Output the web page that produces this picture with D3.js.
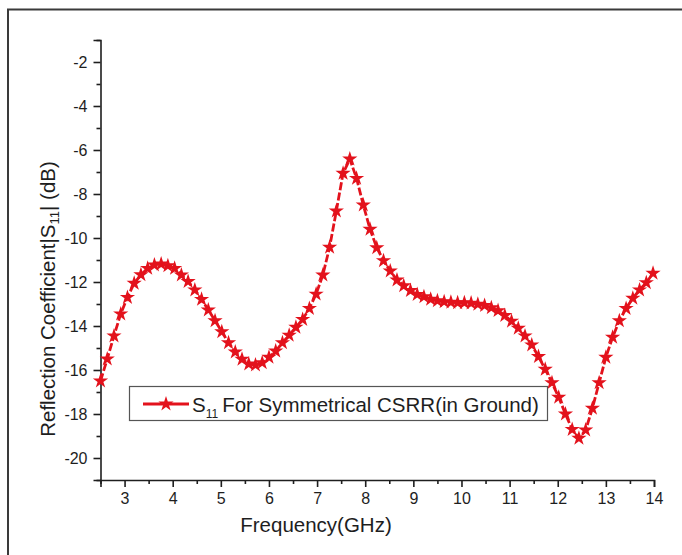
<!DOCTYPE html>
<html>
<head>
<meta charset="utf-8">
<script src="https://cdn.jsdelivr.net/npm/d3@7"></script>
<style>
  html, body { margin: 0; padding: 0; background: #fff; }
  svg { display: block; font-family: "Liberation Sans", Arial, sans-serif; }
</style>
</head>
<body>
<svg id="chart" width="682" height="555"></svg>
<script>
// Simulated S11 sweep, 2.5–14 GHz
const frequency = [
  2.50, 2.64, 2.78, 2.92, 3.06, 3.20, 3.34, 3.48, 3.62, 3.76,
  3.90, 4.04, 4.18, 4.32, 4.46, 4.60, 4.74, 4.88, 5.02, 5.16,
  5.30, 5.44, 5.58, 5.72, 5.86, 6.00, 6.14, 6.28, 6.42, 6.56,
  6.70, 6.84, 6.98, 7.12, 7.26, 7.40, 7.54, 7.68, 7.82, 7.96,
  8.10, 8.24, 8.38, 8.52, 8.66, 8.80, 8.94, 9.08, 9.22, 9.36,
  9.50, 9.64, 9.78, 9.92, 10.06, 10.20, 10.34, 10.48, 10.62, 10.76,
  10.90, 11.04, 11.18, 11.32, 11.46, 11.60, 11.74, 11.88, 12.02, 12.16,
  12.30, 12.44, 12.58, 12.72, 12.86, 13.00, 13.14, 13.28, 13.42, 13.56,
  13.70, 13.84, 13.98
];
const s11 = [
  -16.50, -15.50, -14.45, -13.45, -12.70, -12.06, -11.67, -11.38, -11.23, -11.18,
  -11.26, -11.38, -11.68, -11.98, -12.36, -12.79, -13.27, -13.76, -14.26, -14.76,
  -15.18, -15.51, -15.73, -15.77, -15.67, -15.42, -15.14, -14.76, -14.42, -14.06,
  -13.70, -13.20, -12.55, -11.68, -10.42, -8.77, -7.06, -6.41, -7.29, -8.50,
  -9.60, -10.44, -11.03, -11.50, -11.91, -12.17, -12.39, -12.57, -12.67, -12.78,
  -12.85, -12.90, -12.92, -12.94, -12.94, -12.96, -13.01, -13.07, -13.17, -13.30,
  -13.52, -13.78, -14.10, -14.45, -14.86, -15.39, -15.97, -16.58, -17.24, -18.00,
  -18.70, -19.10, -18.73, -17.74, -16.58, -15.42, -14.51, -13.76, -13.20, -12.74,
  -12.36, -12.03, -11.60
];
const xTicks = [3, 4, 5, 6, 7, 8, 9, 10, 11, 12, 13, 14];
const yTicks = [-20, -18, -16, -14, -12, -10, -8, -6, -4, -2];
const seriesName = "For Symmetrical CSRR(in Ground)";

const red = "#e3121c";
const ink = "#1e1e1e";

const svg = d3.select("#chart");

// Outer frame (top and left edges)
svg.append("path")
  .attr("d", "M8,555 L8,9.5 L682,9.5")
  .attr("fill", "none").attr("stroke", "#3a3a3a").attr("stroke-width", 2);

const x = d3.scaleLinear().domain([2.5, 14]).range([100.5, 654]);
const y = d3.scaleLinear().domain([-21, -1]).range([480, 40]);

// Minor ticks
const xMinor = d3.range(2.5, 14.01, 0.5).filter(v => Math.abs(v - Math.round(v)) > 0.01);
const yMinor = d3.range(-21, -0.99, 2);

const xAxisG = svg.append("g").attr("transform", "translate(0,480)");
xAxisG.call(d3.axisBottom(x).tickValues(xTicks).tickSize(7).tickPadding(6).tickFormat(d3.format("d")));
xAxisG.append("g").call(d3.axisBottom(x).tickValues(xMinor).tickSize(4).tickFormat(""))
  .select(".domain").remove();

const yAxisG = svg.append("g").attr("transform", "translate(100.5,0)");
yAxisG.call(d3.axisLeft(y).tickValues(yTicks).tickSize(7).tickPadding(6).tickFormat(d => d3.format("d")(d).replace("−", "-")));
yAxisG.append("g").call(d3.axisLeft(y).tickValues(yMinor).tickSize(4).tickFormat(""))
  .select(".domain").remove();

svg.selectAll(".domain").attr("stroke", ink).attr("stroke-width", 1.6);
svg.selectAll(".tick line").attr("stroke", ink).attr("stroke-width", 1.6);
svg.selectAll(".tick text").attr("fill", ink).attr("font-size", 16)
  .attr("font-family", "'Liberation Sans', Arial, sans-serif");

// Axis titles
svg.append("text")
  .attr("x", 316).attr("y", 532)
  .attr("text-anchor", "middle").attr("font-size", 20.5).attr("fill", ink)
  .text("Frequency(GHz)");

const yTitle = svg.append("text")
  .attr("transform", "translate(55,299) rotate(-90)")
  .attr("text-anchor", "middle").attr("font-size", 20.5).attr("fill", ink);
yTitle.append("tspan").text("Reflection Coefficient|S");
yTitle.append("tspan").attr("font-size", 13).attr("dy", 4).text("11");
yTitle.append("tspan").attr("dy", -4).text("| (dB)");

// Series
const pts = frequency.map((f, i) => ({ f, v: s11[i] }));
const line = d3.line().x(d => x(d.f)).y(d => y(d.v));

svg.append("path")
  .datum(pts)
  .attr("d", line)
  .attr("fill", "none")
  .attr("stroke", red)
  .attr("stroke-width", 2.8)
  .attr("stroke-dasharray", "8,2.5");

const star = d3.symbol().type(d3.symbolStar).size(72);
svg.append("g").selectAll("path")
  .data(pts)
  .join("path")
  .attr("d", star)
  .attr("transform", d => `translate(${x(d.f)},${y(d.v)})`)
  .attr("fill", red);

// Legend
const lg = svg.append("g");
lg.append("rect")
  .attr("x", 129.5).attr("y", 386.5).attr("width", 418).attr("height", 34)
  .attr("fill", "#fff").attr("stroke", "#555").attr("stroke-width", 1.2);
lg.append("line")
  .attr("x1", 143).attr("x2", 189).attr("y1", 404).attr("y2", 404)
  .attr("stroke", red).attr("stroke-width", 2.8);
lg.append("path")
  .attr("d", star)
  .attr("transform", "translate(166,404)")
  .attr("fill", red);
const lt = lg.append("text")
  .attr("x", 192).attr("y", 412)
  .attr("font-size", 20.5).attr("fill", ink);
lt.append("tspan").text("S");
lt.append("tspan").attr("font-size", 12).attr("dy", 6).text("11");
lt.append("tspan").attr("dy", -6).attr("dx", 4).text(seriesName);
</script>
</body>
</html>
